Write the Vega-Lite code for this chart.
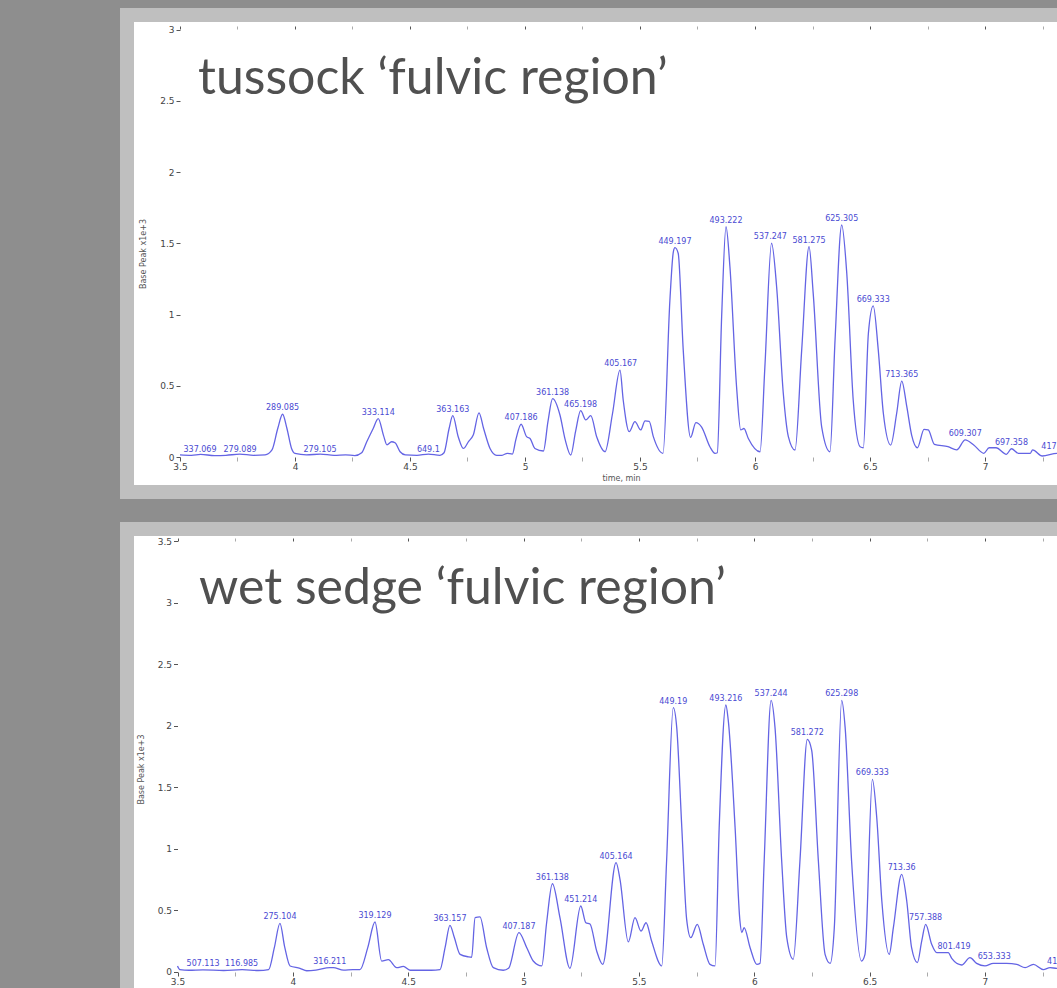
{
  "$schema": "https://vega.github.io/schema/vega-lite/v6.json",
  "background": "#8e8e8e",
  "padding": {"left": 120, "top": 8, "right": 0, "bottom": 0},
  "spacing": 23,
  "config": {
    "view": {"fill": "#ffffff", "stroke": "#bfbfbf", "strokeWidth": 14},
    "axis": {"labelFont": "DejaVu Sans", "labelFontSize": 9, "labelColor": "#444444", "tickColor": "#555555", "domain": false, "grid": false, "titleFont": "DejaVu Sans", "titleFontSize": 8, "titleFontWeight": "normal", "titleColor": "#555555", "labelOverlap": false, "labelFlush": false}
  },
  "datasets": {
    "top": [
      {"t":3.50,"v":0.015},{"t":3.55,"v":0.012},{"t":3.59,"v":0.018},{"t":3.65,"v":0.01},{"t":3.70,"v":0.012},{"t":3.76,"v":0.02},{"t":3.82,"v":0.012},{"t":3.87,"v":0.015},{"t":3.90,"v":0.05},{"t":3.925,"v":0.2},{"t":3.946,"v":0.30},{"t":3.965,"v":0.2},{"t":3.985,"v":0.06},{"t":4.00,"v":0.025},{"t":4.05,"v":0.015},{"t":4.11,"v":0.02},{"t":4.17,"v":0.012},{"t":4.22,"v":0.015},{"t":4.26,"v":0.01},{"t":4.29,"v":0.03},{"t":4.312,"v":0.107},{"t":4.34,"v":0.2},{"t":4.362,"v":0.27},{"t":4.385,"v":0.15},{"t":4.40,"v":0.085},{"t":4.42,"v":0.107},{"t":4.435,"v":0.1},{"t":4.457,"v":0.037},{"t":4.48,"v":0.015},{"t":4.53,"v":0.012},{"t":4.58,"v":0.02},{"t":4.63,"v":0.012},{"t":4.648,"v":0.03},{"t":4.67,"v":0.2},{"t":4.686,"v":0.29},{"t":4.71,"v":0.14},{"t":4.732,"v":0.06},{"t":4.755,"v":0.11},{"t":4.775,"v":0.154},{"t":4.80,"v":0.31},{"t":4.82,"v":0.2},{"t":4.848,"v":0.06},{"t":4.877,"v":0.012},{"t":4.90,"v":0.012},{"t":4.923,"v":0.026},{"t":4.945,"v":0.02},{"t":4.96,"v":0.12},{"t":4.983,"v":0.23},{"t":5.007,"v":0.143},{"t":5.022,"v":0.13},{"t":5.043,"v":0.06},{"t":5.08,"v":0.042},{"t":5.10,"v":0.25},{"t":5.12,"v":0.41},{"t":5.152,"v":0.295},{"t":5.175,"v":0.12},{"t":5.199,"v":0.014},{"t":5.22,"v":0.18},{"t":5.242,"v":0.325},{"t":5.264,"v":0.26},{"t":5.286,"v":0.29},{"t":5.312,"v":0.14},{"t":5.348,"v":0.037},{"t":5.38,"v":0.3},{"t":5.413,"v":0.61},{"t":5.427,"v":0.40},{"t":5.453,"v":0.178},{"t":5.478,"v":0.248},{"t":5.503,"v":0.19},{"t":5.522,"v":0.253},{"t":5.54,"v":0.25},{"t":5.558,"v":0.143},{"t":5.60,"v":0.026},{"t":5.63,"v":1.10},{"t":5.645,"v":1.44},{"t":5.652,"v":1.469},{"t":5.666,"v":1.43},{"t":5.688,"v":0.75},{"t":5.72,"v":0.138},{"t":5.743,"v":0.241},{"t":5.768,"v":0.21},{"t":5.804,"v":0.072},{"t":5.826,"v":0.026},{"t":5.836,"v":0.03},{"t":5.855,"v":0.985},{"t":5.874,"v":1.616},{"t":5.891,"v":1.335},{"t":5.92,"v":0.49},{"t":5.938,"v":0.19},{"t":5.952,"v":0.2},{"t":5.971,"v":0.13},{"t":6.022,"v":0.037},{"t":6.043,"v":0.634},{"t":6.072,"v":1.50},{"t":6.094,"v":1.195},{"t":6.123,"v":0.447},{"t":6.145,"v":0.143},{"t":6.174,"v":0.049},{"t":6.203,"v":0.75},{"t":6.235,"v":1.476},{"t":6.253,"v":1.15},{"t":6.29,"v":0.21},{"t":6.326,"v":0.037},{"t":6.348,"v":0.82},{"t":6.377,"v":1.628},{"t":6.399,"v":1.289},{"t":6.427,"v":0.40},{"t":6.457,"v":0.072},{"t":6.471,"v":0.065},{"t":6.493,"v":0.868},{"t":6.514,"v":1.06},{"t":6.536,"v":0.75},{"t":6.558,"v":0.307},{"t":6.59,"v":0.084},{"t":6.616,"v":0.307},{"t":6.638,"v":0.533},{"t":6.66,"v":0.353},{"t":6.681,"v":0.154},{"t":6.706,"v":0.065},{"t":6.735,"v":0.194},{"t":6.753,"v":0.19},{"t":6.78,"v":0.089},{"t":6.839,"v":0.072},{"t":6.877,"v":0.05},{"t":6.914,"v":0.12},{"t":6.951,"v":0.084},{"t":6.995,"v":0.026},{"t":7.018,"v":0.065},{"t":7.048,"v":0.065},{"t":7.093,"v":0.019},{"t":7.115,"v":0.058},{"t":7.145,"v":0.026},{"t":7.197,"v":0.026},{"t":7.207,"v":0.05},{"t":7.249,"v":0.007},{"t":7.313,"v":0.026},{"t":7.35,"v":0.02},{"t":7.40,"v":0.02}
    ],
    "topLabels": [
      {"t":3.587,"v":0.01,"label":"337.069"},{"t":3.761,"v":0.01,"label":"279.089"},{"t":3.946,"v":0.30,"label":"289.085"},{"t":4.109,"v":0.01,"label":"279.105"},{"t":4.362,"v":0.27,"label":"333.114"},{"t":4.58,"v":0.01,"label":"649.1"},{"t":4.686,"v":0.29,"label":"363.163"},{"t":4.983,"v":0.23,"label":"407.186"},{"t":5.12,"v":0.41,"label":"361.138"},{"t":5.242,"v":0.325,"label":"465.198"},{"t":5.416,"v":0.61,"label":"405.167"},{"t":5.652,"v":1.469,"label":"449.197"},{"t":5.874,"v":1.616,"label":"493.222"},{"t":6.067,"v":1.50,"label":"537.247"},{"t":6.235,"v":1.476,"label":"581.275"},{"t":6.377,"v":1.628,"label":"625.305"},{"t":6.514,"v":1.06,"label":"669.333"},{"t":6.638,"v":0.533,"label":"713.365"},{"t":6.914,"v":0.12,"label":"609.307"},{"t":7.115,"v":0.058,"label":"697.358"},{"t":7.317,"v":0.026,"label":"417.170"}
    ],
    "bottom": [
      {"t":3.50,"v":0.049},{"t":3.51,"v":0.02},{"t":3.55,"v":0.014},{"t":3.61,"v":0.018},{"t":3.70,"v":0.012},{"t":3.78,"v":0.02},{"t":3.85,"v":0.012},{"t":3.895,"v":0.02},{"t":3.92,"v":0.2},{"t":3.944,"v":0.395},{"t":3.965,"v":0.2},{"t":3.988,"v":0.049},{"t":4.031,"v":0.03},{"t":4.06,"v":0.01},{"t":4.10,"v":0.015},{"t":4.16,"v":0.035},{"t":4.175,"v":0.035},{"t":4.22,"v":0.015},{"t":4.26,"v":0.02},{"t":4.291,"v":0.02},{"t":4.325,"v":0.2},{"t":4.356,"v":0.406},{"t":4.385,"v":0.089},{"t":4.414,"v":0.10},{"t":4.45,"v":0.035},{"t":4.479,"v":0.045},{"t":4.508,"v":0.014},{"t":4.60,"v":0.014},{"t":4.638,"v":0.02},{"t":4.66,"v":0.2},{"t":4.681,"v":0.379},{"t":4.70,"v":0.28},{"t":4.725,"v":0.143},{"t":4.761,"v":0.123},{"t":4.775,"v":0.12},{"t":4.79,"v":0.441},{"t":4.811,"v":0.447},{"t":4.84,"v":0.197},{"t":4.869,"v":0.035},{"t":4.912,"v":0.014},{"t":4.935,"v":0.03},{"t":4.98,"v":0.32},{"t":5.014,"v":0.197},{"t":5.042,"v":0.089},{"t":5.079,"v":0.049},{"t":5.10,"v":0.4},{"t":5.125,"v":0.717},{"t":5.158,"v":0.44},{"t":5.201,"v":0.03},{"t":5.248,"v":0.536},{"t":5.27,"v":0.40},{"t":5.288,"v":0.39},{"t":5.317,"v":0.17},{"t":5.343,"v":0.062},{"t":5.401,"v":0.888},{"t":5.418,"v":0.753},{"t":5.454,"v":0.245},{"t":5.483,"v":0.441},{"t":5.509,"v":0.333},{"t":5.531,"v":0.40},{"t":5.555,"v":0.252},{"t":5.599,"v":0.049},{"t":5.62,"v":0.90},{"t":5.649,"v":2.147},{"t":5.664,"v":1.985},{"t":5.686,"v":1.172},{"t":5.707,"v":0.428},{"t":5.725,"v":0.279},{"t":5.753,"v":0.387},{"t":5.779,"v":0.225},{"t":5.808,"v":0.062},{"t":5.83,"v":0.049},{"t":5.848,"v":1.172},{"t":5.877,"v":2.169},{"t":5.887,"v":2.05},{"t":5.917,"v":1.172},{"t":5.938,"v":0.414},{"t":5.946,"v":0.32},{"t":5.956,"v":0.36},{"t":5.982,"v":0.197},{"t":6.011,"v":0.062},{"t":6.025,"v":0.07},{"t":6.043,"v":0.90},{"t":6.073,"v":2.207},{"t":6.09,"v":1.985},{"t":6.119,"v":0.90},{"t":6.141,"v":0.279},{"t":6.169,"v":0.103},{"t":6.198,"v":0.90},{"t":6.23,"v":1.89},{"t":6.249,"v":1.80},{"t":6.278,"v":0.90},{"t":6.307,"v":0.143},{"t":6.329,"v":0.07},{"t":6.347,"v":0.36},{"t":6.379,"v":2.207},{"t":6.394,"v":1.985},{"t":6.422,"v":0.90},{"t":6.465,"v":0.089},{"t":6.48,"v":0.143},{"t":6.512,"v":1.565},{"t":6.531,"v":1.253},{"t":6.553,"v":0.577},{"t":6.585,"v":0.143},{"t":6.603,"v":0.36},{"t":6.639,"v":0.793},{"t":6.661,"v":0.577},{"t":6.682,"v":0.197},{"t":6.707,"v":0.076},{"t":6.726,"v":0.252},{"t":6.743,"v":0.387},{"t":6.769,"v":0.225},{"t":6.791,"v":0.157},{"t":6.841,"v":0.157},{"t":6.856,"v":0.11},{"t":6.899,"v":0.057},{"t":6.935,"v":0.116},{"t":6.964,"v":0.07},{"t":7.0,"v":0.049},{"t":7.036,"v":0.07},{"t":7.094,"v":0.07},{"t":7.138,"v":0.062},{"t":7.174,"v":0.035},{"t":7.21,"v":0.062},{"t":7.253,"v":0.02},{"t":7.282,"v":0.035},{"t":7.312,"v":0.03},{"t":7.36,"v":0.03},{"t":7.40,"v":0.03}
    ],
    "bottomLabels": [
      {"t":3.611,"v":0.014,"label":"507.113"},{"t":3.778,"v":0.02,"label":"116.985"},{"t":3.944,"v":0.395,"label":"275.104"},{"t":4.16,"v":0.035,"label":"316.211"},{"t":4.356,"v":0.406,"label":"319.129"},{"t":4.681,"v":0.379,"label":"363.157"},{"t":4.98,"v":0.32,"label":"407.187"},{"t":5.125,"v":0.717,"label":"361.138"},{"t":5.248,"v":0.536,"label":"451.214"},{"t":5.401,"v":0.888,"label":"405.164"},{"t":5.649,"v":2.147,"label":"449.19"},{"t":5.877,"v":2.169,"label":"493.216"},{"t":6.073,"v":2.207,"label":"537.244"},{"t":6.23,"v":1.89,"label":"581.272"},{"t":6.379,"v":2.207,"label":"625.298"},{"t":6.512,"v":1.565,"label":"669.333"},{"t":6.639,"v":0.793,"label":"713.36"},{"t":6.743,"v":0.387,"label":"757.388"},{"t":6.866,"v":0.157,"label":"801.419"},{"t":7.04,"v":0.07,"label":"653.333"},{"t":7.33,"v":0.035,"label":"417.19"}
    ]
  },
  "vconcat": [
    {
      "width": 988,
      "height": 477,
      "title": {"text": "tussock ‘fulvic region’", "anchor": "start", "frame": "group", "offset": 0, "dx": 71, "dy": 129, "baseline": "alphabetic", "font": "Lato", "fontSize": 50, "fontWeight": "normal", "color": "#505050"},
      "layer": [
        {
          "data": {"name": "top"},
          "mark": {"type": "line", "color": "#6464e4", "strokeWidth": 1.3, "clip": true, "interpolate": "monotone"},
          "encoding": {
            "x": {"field": "t", "type": "quantitative", "scale": {"domain": [3.2696, 7.5652], "nice": false, "zero": false},
              "axis": {"orient": "bottom", "offset": -35, "values": [3.5,3.75,4,4.25,4.5,4.75,5,5.25,5.5,5.75,6,6.25,6.5,6.75,7,7.25,7.5], "labelExpr": "datum.value % 0.5 === 0 ? '' + datum.value : ''", "tickSize": 4, "tickOpacity": {"condition": {"test": "datum.value % 0.5 === 0", "value": 1}, "value": 0.5}, "labelPadding": 1, "title": "time, min", "titlePadding": 3}},
            "y": {"field": "v", "type": "quantitative", "scale": {"domain": [-0.2456, 3.1018], "nice": false, "zero": false},
              "axis": {"orient": "left", "offset": -53, "values": [0,0.25,0.5,0.75,1,1.25,1.5,1.75,2,2.25,2.5,2.75,3], "labelExpr": "datum.value % 0.5 === 0 ? '' + datum.value : ''", "tickSize": 4, "tickOpacity": {"condition": {"test": "datum.value % 0.5 === 0", "value": 1}, "value": 0.5}, "labelPadding": 2, "title": "Base Peak x1e+3", "titlePadding": 12}}
          }
        },
        {
          "data": {"name": "topLabels"},
          "mark": {"type": "text", "dy": -4, "baseline": "alphabetic", "font": "DejaVu Sans", "fontSize": 8, "color": "#4a4ad2", "clip": true},
          "encoding": {
            "x": {"field": "t", "type": "quantitative", "scale": {"domain": [3.2696, 7.5652], "nice": false, "zero": false},
              "axis": {"orient": "top", "offset": -14, "values": [3.5,3.75,4,4.25,4.5,4.75,5,5.25,5.5,5.75,6,6.25,6.5,6.75,7,7.25,7.5], "labels": false, "tickSize": 3, "tickOpacity": {"condition": {"test": "datum.value % 0.5 === 0", "value": 1}, "value": 0.5}, "title": null}},
            "y": {"field": "v", "type": "quantitative"},
            "text": {"field": "label"}
          }
        }
      ],
      "resolve": {"axis": {"x": "independent"}}
    },
    {
      "width": 988,
      "height": 480,
      "title": {"text": "wet sedge ‘fulvic region’", "anchor": "start", "frame": "group", "offset": 0, "dx": 72, "dy": 125, "baseline": "alphabetic", "font": "Lato", "fontSize": 50, "fontWeight": "normal", "color": "#505050"},
      "layer": [
        {
          "data": {"name": "bottom"},
          "mark": {"type": "line", "color": "#6464e4", "strokeWidth": 1.3, "clip": true, "interpolate": "monotone"},
          "encoding": {
            "x": {"field": "t", "type": "quantitative", "scale": {"domain": [3.2811, 7.5637], "nice": false, "zero": false},
              "axis": {"orient": "bottom", "offset": -37, "values": [3.5,3.75,4,4.25,4.5,4.75,5,5.25,5.5,5.75,6,6.25,6.5,6.75,7,7.25,7.5], "labelExpr": "datum.value % 0.5 === 0 ? '' + datum.value : ''", "tickSize": 4, "tickOpacity": {"condition": {"test": "datum.value % 0.5 === 0", "value": 1}, "value": 0.5}, "labelPadding": 1, "title": "time, min", "titlePadding": 3}},
            "y": {"field": "v", "type": "quantitative", "scale": {"domain": [-0.3006, 3.5987], "nice": false, "zero": false},
              "axis": {"orient": "left", "offset": -50.5, "values": [0,0.25,0.5,0.75,1,1.25,1.5,1.75,2,2.25,2.5,2.75,3,3.25,3.5], "labelExpr": "datum.value % 0.5 === 0 ? '' + datum.value : ''", "tickSize": 4, "tickOpacity": {"condition": {"test": "datum.value % 0.5 === 0", "value": 1}, "value": 0.5}, "labelPadding": 2, "title": "Base Peak x1e+3", "titlePadding": 12}}
          }
        },
        {
          "data": {"name": "bottomLabels"},
          "mark": {"type": "text", "dy": -4, "baseline": "alphabetic", "font": "DejaVu Sans", "fontSize": 8, "color": "#4a4ad2", "clip": true},
          "encoding": {
            "x": {"field": "t", "type": "quantitative", "scale": {"domain": [3.2811, 7.5637], "nice": false, "zero": false},
              "axis": {"orient": "top", "offset": -12, "values": [3.5,3.75,4,4.25,4.5,4.75,5,5.25,5.5,5.75,6,6.25,6.5,6.75,7,7.25,7.5], "labels": false, "tickSize": 3, "tickOpacity": {"condition": {"test": "datum.value % 0.5 === 0", "value": 1}, "value": 0.5}, "title": null}},
            "y": {"field": "v", "type": "quantitative"},
            "text": {"field": "label"}
          }
        }
      ],
      "resolve": {"axis": {"x": "independent"}}
    }
  ]
}
